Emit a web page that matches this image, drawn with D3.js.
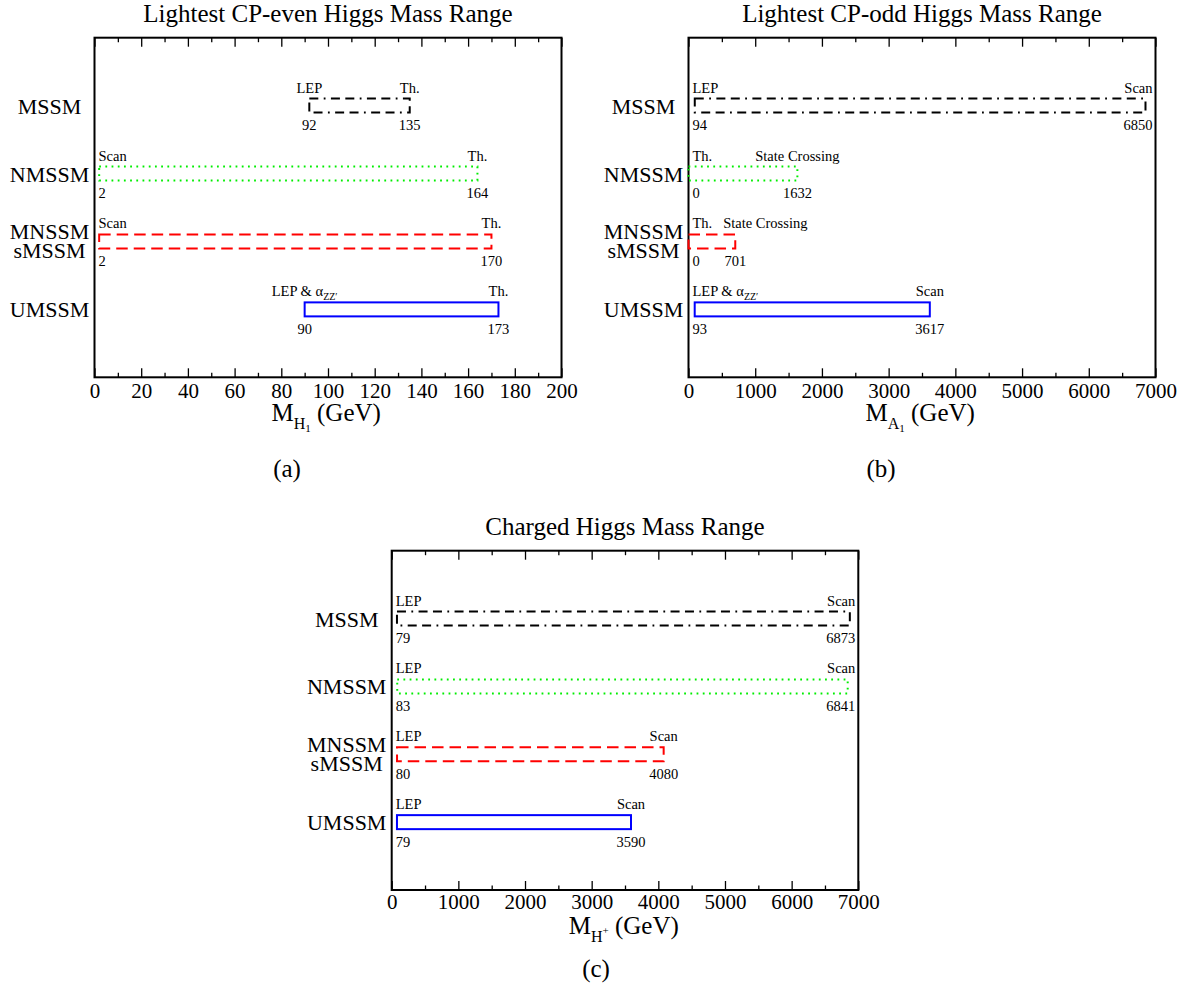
<!DOCTYPE html>
<html><head><meta charset="utf-8">
<script src="https://cdn.jsdelivr.net/npm/d3@7"></script>
<style>
body{margin:0;background:#fff}
svg{display:block}
text{font-family:"Liberation Serif","Times New Roman",serif;fill:#000}
</style>
</head><body>
<svg id="chart" width="1194" height="990"></svg>
<script>
// ---------------- data ----------------
const models = ["MSSM", "NMSSM", "MNSSM|sMSSM", "UMSSM"];

// (a) lightest CP-even Higgs mass range (GeV)
const evenLow = [92, 2, 2, 90];
const evenHigh = [135, 164, 170, 173];
const evenLowLabel = ["LEP", "Scan", "Scan", "LEP & α_ZZ'"];
const evenHighLabel = ["Th.", "Th.", "Th.", "Th."];
const evenTicks = [0, 20, 40, 60, 80, 100, 120, 140, 160, 180, 200];

// (b) lightest CP-odd Higgs mass range (GeV)
const oddLow = [94, 0, 0, 93];
const oddHigh = [6850, 1632, 701, 3617];
const oddLowLabel = ["LEP", "Th.", "Th.", "LEP & α_ZZ'"];
const oddHighLabel = ["Scan", "State Crossing", "State Crossing", "Scan"];
const oddTicks = [0, 1000, 2000, 3000, 4000, 5000, 6000, 7000];

// (c) charged Higgs mass range (GeV)
const chLow = [79, 83, 80, 79];
const chHigh = [6873, 6841, 4080, 3590];
const chLowLabel = ["LEP", "LEP", "LEP", "LEP"];
const chHighLabel = ["Scan", "Scan", "Scan", "Scan"];
const chTicks = [0, 1000, 2000, 3000, 4000, 5000, 6000, 7000];

// ---------------- styles ----------------
const modelColor = ["#000000", "#00ee00", "#ff0000", "#0000ff"];
const modelDash = ["9,5.4,1.8,5.4,9,5.4", "1.8,4.4", "11.5,6", null];

const svg = d3.select("#chart");

function labelText(sel, s) {
  const parts = s.split("_");
  sel.append("tspan").text(parts[0]);
  if (parts.length > 1) {
    sel.append("tspan").attr("dy", 4).style("font-size", "10px").text(parts[1].replace("'", "′"));
  }
}

function panel(cfg) {
  const g = svg.append("g");
  const L = cfg.left, R = cfg.left + cfg.width, T = cfg.top, B = cfg.top + cfg.height;
  const x = d3.scaleLinear().domain(cfg.domain).range([L, R]);
  const y = d3.scaleLinear().domain([0, 5]).range([T, B]);

  // title
  g.append("text").attr("x", (L + R) / 2).attr("y", T - 15.5)
    .attr("text-anchor", "middle").style("font-size", "25px").text(cfg.title);

  // ticks
  const major = cfg.ticks;
  const minor = d3.range(cfg.domain[0] + cfg.minor, cfg.domain[1], cfg.minor * 2);
  const bottom = g.append("g").attr("transform", `translate(0,${B})`)
    .call(d3.axisBottom(x).tickValues(major).tickSize(-9).tickFormat(d3.format("d")));
  bottom.select(".domain").remove();
  bottom.selectAll("line").attr("stroke", "#000").attr("stroke-width", 1.3);
  bottom.selectAll("text").attr("y", cfg.tickBase).attr("dy", null)
    .attr("fill", "#000").style("font-size", "21px").style("font-family", '"Liberation Serif",serif');
  const bMinor = g.append("g").attr("transform", `translate(0,${B})`)
    .call(d3.axisBottom(x).tickValues(minor).tickSize(-4.5).tickFormat(""));
  bMinor.select(".domain").remove();
  bMinor.selectAll("line").attr("stroke", "#000").attr("stroke-width", 1.3);
  const top = g.append("g").attr("transform", `translate(0,${T})`)
    .call(d3.axisTop(x).tickValues(major).tickSize(-9).tickFormat(""));
  top.select(".domain").remove();
  top.selectAll("line").attr("stroke", "#000").attr("stroke-width", 1.3);
  const tMinor = g.append("g").attr("transform", `translate(0,${T})`)
    .call(d3.axisTop(x).tickValues(minor).tickSize(-4.5).tickFormat(""));
  tMinor.select(".domain").remove();
  tMinor.selectAll("line").attr("stroke", "#000").attr("stroke-width", 1.3);

  // frame
  g.append("rect").attr("x", L).attr("y", T).attr("width", R - L).attr("height", B - T)
    .attr("fill", "none").attr("stroke", "#000").attr("stroke-width", 2);

  // bars and labels
  models.forEach((m, i) => {
    const cy = y(i + 1);
    const lines = m.split("|");
    if (lines.length === 1) {
      g.append("text").attr("text-anchor", "middle").style("font-size", "22px")
        .attr("x", L - 45).attr("y", cy + 8).text(m);
    } else {
      g.append("text").attr("text-anchor", "middle").style("font-size", "22px")
        .attr("x", L - 45).attr("y", cy - 2).text(lines[0]);
      g.append("text").attr("text-anchor", "middle").style("font-size", "22px")
        .attr("x", L - 45).attr("y", cy + 17).text(lines[1]);
    }
    const lo = cfg.low[i], hi = cfg.high[i];
    g.append("rect").attr("x", x(lo)).attr("y", cy - 7)
      .attr("width", x(hi) - x(lo)).attr("height", 14)
      .attr("fill", "none").attr("stroke", modelColor[i]).attr("stroke-width", 2)
      .attr("stroke-dasharray", modelDash[i]);

    function place(items, yy) {
      const nodes = items.map(it => {
        const t = g.append("text").attr("y", yy).style("font-size", "14.5px");
        labelText(t, it.s);
        const w = t.node().getComputedTextLength();
        let left = x(it.v) - w / 2;
        left = Math.max(L + 4, Math.min(R - 3 - w, left));
        return {t, w, left};
      });
      if (nodes[1].left < nodes[0].left + nodes[0].w + 8) {
        nodes[1].left = nodes[0].left + nodes[0].w + 11;
      }
      nodes.forEach(n => n.t.attr("x", n.left));
    }
    place([{v: lo, s: cfg.lowLabel[i]}, {v: hi, s: cfg.highLabel[i]}], cy - 13);
    place([{v: lo, s: String(lo)}, {v: hi, s: String(hi)}], cy + 24.5);
  });

  // axis title
  const at = g.append("text").attr("x", L + 177).attr("y", B + 44).style("font-size", "25px");
  at.append("tspan").text("M");
  at.append("tspan").attr("dy", 8).style("font-size", "16px").text(cfg.sub);
  if (cfg.subsub) at.append("tspan").attr("dy", 3).style("font-size", "11px").text(cfg.subsub);
  if (cfg.sup) at.append("tspan").attr("dy", -8).style("font-size", "11px").text(cfg.sup);
  at.append("tspan").attr("dy", cfg.restDy).text(cfg.rest);

  // caption
  g.append("text").attr("x", cfg.capX).attr("y", cfg.capY).attr("text-anchor", "middle")
    .style("font-size", "25px").text(cfg.caption);
}

panel({left: 94.5, top: 37.7, width: 467, height: 339.6, domain: [0, 200], ticks: evenTicks, minor: 10,
  low: evenLow, high: evenHigh, lowLabel: evenLowLabel, highLabel: evenHighLabel, tickBase: 20.5,
  title: "Lightest CP-even Higgs Mass Range", sub: "H", subsub: "1", restDy: -11, rest: "  (GeV)",
  caption: "(a)", capX: 287, capY: 477});
panel({left: 688.5, top: 37.7, width: 467, height: 339.6, domain: [0, 7000], ticks: oddTicks, minor: 500,
  low: oddLow, high: oddHigh, lowLabel: oddLowLabel, highLabel: oddHighLabel, tickBase: 20.5,
  title: "Lightest CP-odd Higgs Mass Range", sub: "A", subsub: "1", restDy: -11, rest: "  (GeV)",
  caption: "(b)", capX: 881, capY: 477});
panel({left: 391.7, top: 550.7, width: 466.6, height: 339.3, domain: [0, 7000], ticks: chTicks, minor: 500,
  low: chLow, high: chHigh, lowLabel: chLowLabel, highLabel: chHighLabel, tickBase: 19,
  title: "Charged Higgs Mass Range", sub: "H", sup: "+", restDy: 0, rest: " (GeV)",
  caption: "(c)", capX: 596, capY: 977});
</script>
</body></html>
